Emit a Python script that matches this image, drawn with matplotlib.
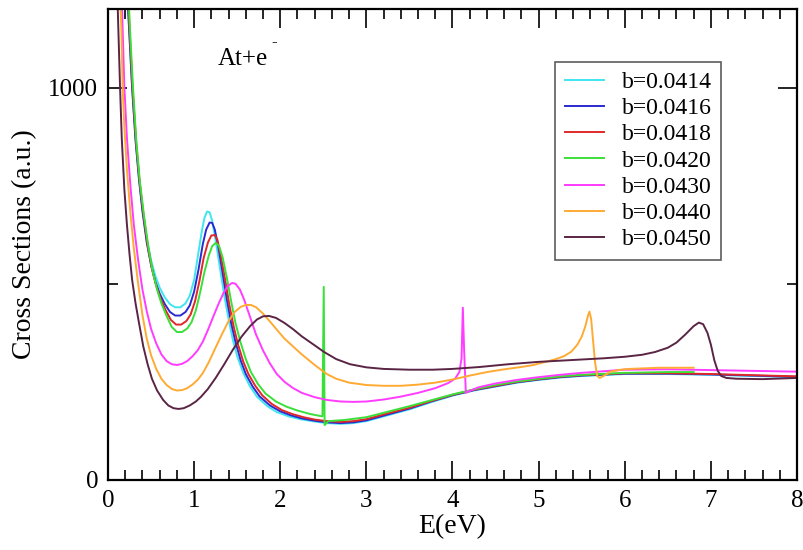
import matplotlib
matplotlib.use("Agg")
import matplotlib.pyplot as plt
from matplotlib.ticker import MultipleLocator, FixedLocator

plt.rcParams['font.family'] = ['Liberation Serif', 'DejaVu Serif']

# --- data (E in eV, cross section in a.u.)
labels = ["b=0.0414", "b=0.0416", "b=0.0418", "b=0.0420", "b=0.0430", "b=0.0440", "b=0.0450"]
colors = ["#3ee6f0", "#2a2ad0", "#e02828", "#3ae03a", "#ff3cff", "#ffaa33", "#5a2545"]

e_0414 = [0.21, 0.245, 0.28, 0.32, 0.36, 0.40, 0.45, 0.50, 0.55, 0.60, 0.66, 0.72, 0.78, 0.84, 0.90, 0.95,
          1.00, 1.05, 1.09, 1.12, 1.15, 1.18, 1.21, 1.25, 1.30, 1.35, 1.40, 1.45, 1.50, 1.57, 1.65, 1.73,
          1.85, 1.96, 2.1, 2.23, 2.4, 2.54, 2.70, 2.85, 3.0, 3.25, 3.5, 3.75, 4.0, 4.25, 4.5, 4.75, 5.0,
          5.25, 5.5, 6.0, 6.5, 7.0, 7.5, 8.0]
s_0414 = [1300, 1150, 1000, 870, 770, 690, 615, 560, 520, 490, 465, 448, 440, 440, 450, 470,
          510, 580, 635, 668, 684, 682, 660, 610, 540, 470, 410, 357, 315, 273, 238, 212,
          188, 173, 162, 155, 149, 145, 143, 145, 150, 165, 180, 198, 215, 228, 238, 248, 255,
          261, 265, 270, 270, 268, 265, 262]

e_0416 = [0.21, 0.245, 0.28, 0.32, 0.36, 0.40, 0.45, 0.50, 0.55, 0.60, 0.66, 0.72, 0.78, 0.84, 0.90, 0.95,
          1.00, 1.05, 1.10, 1.14, 1.18, 1.21, 1.24, 1.28, 1.33, 1.38, 1.43, 1.48, 1.54, 1.60, 1.68, 1.76,
          1.88, 2.0, 2.12, 2.25, 2.4, 2.54, 2.70, 2.85, 3.0, 3.25, 3.5, 3.75, 4.0, 4.25, 4.5, 4.75, 5.0,
          5.25, 5.5, 6.0, 6.5, 7.0, 7.5, 8.0]
s_0416 = [1300, 1150, 1000, 865, 765, 685, 605, 548, 505, 475, 448, 428, 419, 419, 428, 445,
          480, 535, 600, 638, 656, 655, 638, 595, 528, 460, 400, 352, 305, 270, 238, 213,
          190, 175, 165, 157, 151, 147, 145, 147, 152, 167, 182, 200, 216, 229, 239, 249, 256,
          262, 266, 271, 271, 269, 266, 263]

e_0418 = [0.22, 0.25, 0.285, 0.325, 0.365, 0.41, 0.46, 0.51, 0.56, 0.61, 0.67, 0.73, 0.79, 0.85, 0.91, 0.96,
          1.01, 1.06, 1.11, 1.16, 1.20, 1.24, 1.27, 1.31, 1.36, 1.41, 1.46, 1.51, 1.57, 1.63, 1.71, 1.79,
          1.9, 2.02, 2.14, 2.27, 2.4, 2.54, 2.70, 2.85, 3.0, 3.25, 3.5, 3.75, 4.0, 4.25, 4.5, 4.75, 5.0,
          5.25, 5.5, 6.0, 6.5, 7.0, 7.5, 8.0]
s_0418 = [1300, 1150, 1000, 865, 765, 680, 598, 538, 495, 462, 432, 408, 396, 396, 405, 422,
          455, 505, 565, 605, 623, 624, 612, 572, 510, 445, 390, 345, 302, 270, 240, 216,
          194, 178, 168, 160, 154, 150, 148, 150, 155, 170, 184, 201, 217, 230, 240, 250, 257,
          263, 267, 272, 272, 270, 267, 264]

e_0420 = [0.225, 0.255, 0.29, 0.33, 0.37, 0.42, 0.47, 0.52, 0.57, 0.62, 0.68, 0.74, 0.80, 0.86, 0.92, 0.97,
          1.02, 1.07, 1.12, 1.17, 1.21, 1.25, 1.29, 1.33, 1.38, 1.43, 1.48, 1.54, 1.60, 1.66, 1.74, 1.83,
          1.95, 2.07, 2.2, 2.35, 2.49, 2.505, 2.515, 2.56, 2.75, 3.0, 3.25, 3.5, 3.75, 4.0, 4.25, 4.5,
          4.75, 5.0, 5.25, 5.5, 6.0, 6.5, 6.8]
s_0420 = [1300, 1150, 1000, 860, 760, 670, 592, 530, 485, 450, 418, 390, 377, 377, 386, 402,
          432, 478, 530, 572, 596, 604, 596, 568, 515, 455, 400, 350, 308, 275, 245, 220,
          200, 187, 177, 168, 162, 492, 140, 150, 153, 160, 174, 188, 203, 218, 231, 242,
          251, 258, 264, 268, 273, 275, 275]

e_0430 = [0.15, 0.17, 0.19, 0.22, 0.26, 0.30, 0.35, 0.40, 0.45, 0.50, 0.56, 0.62, 0.68, 0.74, 0.80, 0.86,
          0.92, 0.98, 1.04, 1.10, 1.16, 1.22, 1.28, 1.34, 1.39, 1.44, 1.48, 1.53, 1.58, 1.65, 1.72, 1.80,
          1.88, 1.96, 2.05, 2.15, 2.25, 2.4, 2.54, 2.7, 2.85, 3.0, 3.2, 3.39, 3.6, 3.8, 3.95, 4.03, 4.08,
          4.105, 4.12, 4.135, 4.155, 4.2, 4.3, 4.5, 4.75, 5.0, 5.25, 5.5, 6.0, 6.5, 7.0, 7.5, 8.0]
s_0430 = [1300, 1150, 1000, 870, 750, 650, 560, 485, 430, 385, 348, 320, 303, 295, 293, 296,
          303, 315, 330, 352, 382, 415, 447, 476, 494, 502, 500, 486, 460, 415, 370, 330,
          297, 270, 250, 234, 222, 211, 204, 200, 199, 200, 205, 212, 222, 234, 247, 258, 275,
          310, 439, 330, 222, 227, 236, 246, 255, 262, 268, 273, 281, 282, 280, 278, 276]

e_0440 = [0.13, 0.155, 0.17, 0.19, 0.22, 0.26, 0.30, 0.35, 0.40, 0.45, 0.50, 0.56, 0.62, 0.68, 0.74, 0.80,
          0.86, 0.92, 0.98, 1.04, 1.10, 1.17, 1.24, 1.32, 1.40, 1.47, 1.54, 1.60, 1.66, 1.72, 1.80, 1.88,
          1.96, 2.05, 2.15, 2.25, 2.4, 2.54, 2.65, 2.8, 3.0, 3.2, 3.4, 3.6, 3.8, 4.0, 4.2, 4.4, 4.6, 4.8,
          4.94, 5.1, 5.2, 5.3, 5.38, 5.45, 5.5, 5.54, 5.575, 5.59, 5.61, 5.63, 5.655, 5.68, 5.71, 5.77,
          5.83, 5.95, 6.05, 6.4, 6.8]
s_0440 = [1300, 1150, 1000, 900, 790, 680, 590, 500, 420, 360, 318, 283, 258, 242, 232, 228,
          229, 234, 243, 255, 272, 300, 333, 370, 405, 428, 441, 446, 446, 440, 424, 404,
          383, 360, 340, 320, 293, 270, 258, 248, 242, 240, 240, 243, 248, 256, 266, 275, 282, 288,
          293, 302, 308, 316, 327, 345, 365, 390, 420, 429, 410, 360, 300, 265, 260, 267,
          276, 281, 283, 286, 286]

e_0450 = [0.10, 0.12, 0.14, 0.16, 0.19, 0.22, 0.25, 0.28, 0.32, 0.36, 0.41, 0.46, 0.51, 0.57, 0.64, 0.70,
          0.76, 0.82, 0.88, 0.95, 1.02, 1.08, 1.16, 1.25, 1.35, 1.45, 1.55, 1.65, 1.73, 1.80, 1.87, 1.95,
          2.05, 2.15, 2.25, 2.4, 2.51, 2.65, 2.81, 3.0, 3.2, 3.5, 3.77, 4.0, 4.32, 4.65, 5.0, 5.25, 5.5,
          5.75, 6.0, 6.2, 6.35, 6.5, 6.6, 6.7, 6.8, 6.86, 6.91, 6.96, 7.0, 7.04, 7.08, 7.12, 7.18, 7.3,
          7.6, 8.0]
s_0450 = [1300, 1150, 1000, 870, 740, 650, 575, 510, 450, 400, 340, 295, 258, 228, 204, 190,
          183, 181, 183, 190, 200, 212, 232, 260, 295, 332, 365, 392, 409, 417, 418, 413,
          400, 384, 366, 343, 326, 308, 295, 287, 283, 281, 281, 283, 288, 295, 301, 304, 307,
          310, 314, 319, 326, 337, 350, 370, 392, 401, 397, 375, 345, 305, 278, 265, 260, 258,
          257, 260]

energies = [e_0414, e_0416, e_0418, e_0420, e_0430, e_0440, e_0450]
sigmas = [s_0414, s_0416, s_0418, s_0420, s_0430, s_0440, s_0450]

fig = plt.figure(figsize=(8.04, 5.5), dpi=100)
ax = fig.add_axes([108/804, 70/550, 689/804, 471/550])

for e, s, c, lab in zip(energies, sigmas, colors, labels):
    ax.plot(e, s, color=c, lw=1.4, label=lab)

ax.set_xlim(0, 8)
ax.set_ylim(0, 1200)
ax.xaxis.set_major_locator(MultipleLocator(1))
ax.xaxis.set_minor_locator(MultipleLocator(0.2))
ax.yaxis.set_major_locator(FixedLocator([0, 1000]))
ax.yaxis.set_minor_locator(FixedLocator([500]))
ax.tick_params(which='both', direction='in', top=True, right=True, width=1.2, labelsize=18, pad=7)
ax.tick_params(which='major', length=14)
ax.tick_params(which='minor', length=7)
for sp in ax.spines.values():
    sp.set_linewidth(1.6)

ax.set_xlabel("E(eV)", fontsize=20, labelpad=2)
ax.set_ylabel("Cross Sections (a.u.)", fontsize=20, labelpad=8)
ax.text(1.277, 1057, "At+e", fontsize=18, va='baseline', ha='left')
ax.text(1.90, 1115, "-", fontsize=12, va='center', ha='left')

leg = ax.legend(loc='upper right', fontsize=17, frameon=True, fancybox=False,
                edgecolor='#333333', handlelength=1.65, handletextpad=0.75,
                labelspacing=0.2, borderpad=0.4, borderaxespad=0)
leg.get_frame().set_linewidth(1.2)
leg.set_bbox_to_anchor((721/804, 1 - 62/550), transform=fig.transFigure)

fig.savefig("out.png", dpi=100)
